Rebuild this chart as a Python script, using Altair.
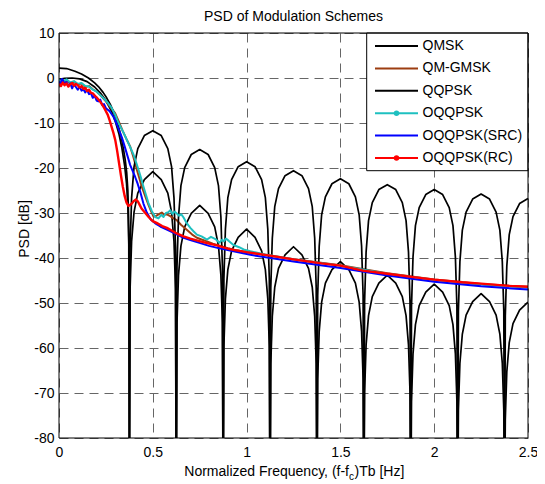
import altair as alt
import pandas as pd

W, H = 469, 405
FONT = "Liberation Sans"

chart_title = "PSD of Modulation Schemes"
series_names = ["QMSK", "QM-GMSK", "QQPSK", "OQQPSK", "OQQPSK(SRC)", "OQQPSK(RC)"]
series_colors = ["#000000", "#9C3D10", "#000000", "#1EC0C0", "#0000FF", "#FF0000"]
series_widths = [1.7, 2.0, 1.7, 2.0, 2.0, 2.4]
series_markers = [False, False, False, True, False, True]

x_ticks = [0, 0.5, 1, 1.5, 2, 2.5]
y_ticks = [-80, -70, -60, -50, -40, -30, -20, -10, 0, 10]

# ---- black curves: main lobes ----
qqpsk_main_x = [0, 0.04, 0.085, 0.12, 0.157, 0.19, 0.21, 0.235, 0.254, 0.275, 0.29, 0.305,
                0.317, 0.332, 0.344, 0.353, 0.361, 0.367, 0.371, 0.374]
qqpsk_main_y = [2.2, 2.1, 1.5, 0.9, 0.0, -1.1, -1.9, -3.2, -4.4, -6.0, -7.4, -9.0,
                -10.8, -13.2, -15.9, -18.2, -21.1, -25.0, -31.0, -42.0]
qmsk_main_x = [0, 0.03, 0.07, 0.11, 0.15, 0.19, 0.22, 0.25, 0.28, 0.30, 0.32, 0.335,
               0.35, 0.36, 0.367, 0.372]
qmsk_main_y = [-0.3, -0.1, 0.0, -0.2, -0.8, -2.0, -3.3, -5.0, -7.4, -9.6, -12.5, -15.5,
               -19.5, -23.5, -28.5, -37.0]

# ---- black curves: side lobes (shared x samples) ----
side_x = [
    0.375, 0.379, 0.387, 0.400, 0.420, 0.455, 0.500, 0.545, 0.580, 0.600, 0.613, 0.621,
    0.625, 0.629, 0.637, 0.650, 0.670, 0.705, 0.750, 0.795, 0.830, 0.850, 0.863, 0.871,
    0.875, 0.879, 0.887, 0.900, 0.920, 0.955, 1.000, 1.045, 1.080, 1.100, 1.113, 1.121,
    1.125, 1.129, 1.137, 1.150, 1.170, 1.205, 1.250, 1.295, 1.330, 1.350, 1.363, 1.371,
    1.375, 1.379, 1.387, 1.400, 1.420, 1.455, 1.500, 1.545, 1.580, 1.600, 1.613, 1.621,
    1.625, 1.629, 1.637, 1.650, 1.670, 1.705, 1.750, 1.795, 1.830, 1.850, 1.863, 1.871,
    1.875, 1.879, 1.887, 1.900, 1.920, 1.955, 2.000, 2.045, 2.080, 2.100, 2.113, 2.121,
    2.125, 2.129, 2.137, 2.150, 2.170, 2.205, 2.250, 2.295, 2.330, 2.350, 2.363, 2.371,
    2.375, 2.379, 2.387, 2.400, 2.420, 2.455, 2.500]
qqpsk_side_y = [
    -100, -37.7, -26.7, -19.7, -15.7, -12.8, -11.7, -12.8, -15.7, -19.7, -26.7, -37.7,
    -100, -41.9, -30.9, -23.9, -19.9, -17.0, -15.9, -17.0, -19.9, -23.9, -30.9, -41.9,
    -100, -44.6, -33.6, -26.6, -22.6, -19.7, -18.6, -19.7, -22.6, -26.6, -33.6, -44.6,
    -100, -46.6, -35.6, -28.6, -24.6, -21.7, -20.6, -21.7, -24.6, -28.6, -35.6, -46.6,
    -100, -48.4, -37.4, -30.4, -26.4, -23.5, -22.4, -23.5, -26.4, -30.4, -37.4, -48.4,
    -100, -49.7, -38.7, -31.7, -27.7, -24.8, -23.7, -24.8, -27.7, -31.7, -38.7, -49.7,
    -100, -50.8, -39.8, -32.8, -28.8, -25.9, -24.8, -25.9, -28.8, -32.8, -39.8, -50.8,
    -100, -51.8, -40.8, -33.8, -29.8, -26.9, -25.8, -26.9, -29.8, -33.8, -40.8, -51.8,
    -100, -52.8, -41.8, -34.8, -30.8, -27.9, -26.8]
qmsk_side_y = [
    -100, -46.8, -36.3, -29.8, -25.6, -22.6, -20.8, -22.6, -25.6, -29.8, -36.3, -46.8,
    -100, -54.3, -43.8, -37.3, -33.1, -30.1, -28.3, -30.1, -33.1, -37.3, -43.8, -54.3,
    -100, -59.6, -49.1, -42.6, -38.4, -35.4, -33.6, -35.4, -38.4, -42.6, -49.1, -59.6,
    -100, -63.5, -53.0, -46.5, -42.3, -39.3, -37.5, -39.3, -42.3, -46.5, -53.0, -63.5,
    -100, -66.8, -56.3, -49.8, -45.6, -42.6, -40.8, -42.6, -45.6, -49.8, -56.3, -66.8,
    -100, -69.8, -59.3, -52.8, -48.6, -45.6, -43.8, -45.6, -48.6, -52.8, -59.3, -69.8,
    -100, -71.8, -61.3, -54.8, -50.6, -47.6, -45.8, -47.6, -50.6, -54.8, -61.3, -71.8,
    -100, -73.9, -63.4, -56.9, -52.7, -49.7, -47.9, -49.7, -52.7, -56.9, -63.4, -73.9,
    -100, -75.8, -65.3, -58.8, -54.6, -51.6, -49.8]

# ---- coloured (simulated) curves ----
gmsk_x = [0, 0.02, 0.04, 0.06, 0.08, 0.10, 0.12, 0.14, 0.16, 0.18, 0.20, 0.225, 0.25, 0.28,
          0.299, 0.32, 0.34, 0.36, 0.379, 0.397, 0.415, 0.428, 0.441, 0.46, 0.477, 0.49,
          0.504, 0.52, 0.535, 0.548, 0.56, 0.575, 0.593, 0.61, 0.628, 0.65, 0.681, 0.71,
          0.735, 0.76, 0.789, 0.82, 0.86, 0.90, 0.95, 1.00, 1.25, 1.50, 1.75, 2.00, 2.25, 2.50]
gmsk_y = [-0.6, -1.1, -0.5, -1.3, -0.8, -1.5, -1.2, -2.0, -1.8, -2.5, -3.0, -4.0, -5.2, -6.8,
          -7.8, -9.8, -11.8, -13.6, -15.2, -17.6, -20.4, -22.2, -24.1, -26.3, -28.2, -29.5,
          -30.8, -30.6, -30.2, -29.9, -30.4, -30.3, -30.7, -31.2, -31.6, -32.6, -33.7, -34.8,
          -35.5, -35.9, -36.3, -36.8, -37.3, -37.8, -38.3, -38.7, -40.3, -41.6, -43.4, -44.8,
          -45.8, -46.4]

oqq_x = [0, 0.02, 0.04, 0.06, 0.08, 0.10, 0.12, 0.14, 0.16, 0.18, 0.20, 0.22, 0.24, 0.26,
         0.28, 0.30, 0.317, 0.34, 0.361, 0.38, 0.397, 0.41, 0.424, 0.437, 0.45, 0.463, 0.477,
         0.495, 0.513, 0.53, 0.545, 0.557, 0.57, 0.583, 0.593, 0.605, 0.617, 0.628, 0.64,
         0.652, 0.664, 0.68, 0.70, 0.718, 0.735, 0.76, 0.789, 0.81, 0.834, 0.855, 0.87, 0.878,
         0.89, 0.905, 0.93, 0.96, 0.984, 1.02, 1.10, 1.25, 1.50, 1.75, 2.00, 2.25, 2.50]
oqq_y = [-0.4, -0.9, -0.3, -1.0, -0.7, -1.3, -1.1, -1.8, -1.9, -2.6, -3.0, -3.8, -4.6, -5.5,
         -6.6, -8.2, -10.0, -11.8, -13.7, -15.4, -17.0, -18.6, -20.4, -22.2, -24.1, -25.9,
         -27.8, -29.6, -30.9, -31.2, -30.4, -30.9, -30.0, -29.8, -29.4, -30.2, -29.7, -30.1,
         -30.6, -30.3, -31.0, -32.2, -33.3, -34.1, -34.8, -35.2, -35.9, -35.3, -35.8, -36.6,
         -35.9, -36.3, -35.7, -36.2, -37.1, -37.6, -38.1, -38.5, -39.2, -40.3, -41.7, -43.5,
         -44.9, -45.9, -46.6]

src_x = [0, 0.01, 0.015, 0.02, 0.03, 0.04, 0.05, 0.06, 0.07, 0.08, 0.09, 0.10, 0.11, 0.12,
         0.13, 0.14, 0.15, 0.16, 0.17, 0.18, 0.19, 0.20, 0.21, 0.22, 0.23, 0.24, 0.25, 0.27,
         0.29, 0.31, 0.335, 0.35, 0.365, 0.379, 0.393, 0.406, 0.42, 0.433, 0.45, 0.468, 0.49,
         0.513, 0.54, 0.575, 0.62, 0.664, 0.70, 0.753, 0.80, 0.85, 0.93, 1.02, 1.25, 1.50,
         1.75, 2.00, 2.25, 2.50]
src_y = [-0.8, -1.5, -0.2, -0.4, -1.3, -0.9, -1.8, -1.2, -2.3, -1.4, -2.0, -2.6, -1.9, -2.8,
         -2.5, -3.2, -2.7, -3.6, -3.3, -4.4, -3.9, -5.0, -5.2, -4.8, -6.0, -5.8, -6.7, -7.4,
         -8.6, -10.5, -13.2, -15.2, -17.3, -19.3, -20.7, -22.0, -23.6, -25.3, -27.9, -29.9,
         -31.5, -32.3, -33.0, -33.7, -34.6, -35.5, -36.0, -36.7, -37.3, -37.8, -38.5, -39.3,
         -40.8, -42.2, -43.9, -45.3, -46.3, -47.0]

rc_x = [0, 0.01, 0.02, 0.03, 0.04, 0.05, 0.06, 0.07, 0.08, 0.09, 0.10, 0.11, 0.12, 0.13,
        0.14, 0.15, 0.16, 0.17, 0.18, 0.19, 0.20, 0.21, 0.22, 0.23, 0.24, 0.25, 0.26, 0.27,
        0.28, 0.29, 0.30, 0.31, 0.32, 0.33, 0.34, 0.35, 0.36, 0.37, 0.38, 0.39, 0.40, 0.41,
        0.42, 0.43, 0.44, 0.46, 0.48, 0.50, 0.52, 0.55, 0.575, 0.60, 0.63, 0.664, 0.70,
        0.753, 0.80, 0.842, 0.90, 0.93, 1.00, 1.10, 1.25, 1.40, 1.50, 1.62, 1.75, 1.90,
        2.00, 2.15, 2.25, 2.40, 2.50]
rc_y = [-1.3, -1.8, -1.0, -1.6, -1.2, -1.9, -1.4, -1.1, -1.7, -1.3, -1.6, -2.1, -1.8, -2.4,
        -2.2, -2.9, -2.6, -3.3, -3.4, -3.9, -4.3, -4.8, -5.3, -5.9, -6.6, -7.4, -8.2, -9.4,
        -10.8, -12.2, -13.8, -16.2, -18.9, -21.6, -24.1, -26.2, -27.7, -28.4, -28.2, -27.8,
        -27.3, -27.0, -27.4, -28.2, -29.0, -30.0, -31.0, -31.8, -32.2, -32.9, -33.3, -33.9,
        -34.6, -35.2, -35.7, -36.3, -36.8, -37.2, -37.9, -38.2, -38.7, -39.3, -40.3, -41.2,
        -41.7, -42.8, -43.5, -44.3, -44.8, -45.4, -45.7, -46.2, -46.4]

curve_data = {
    "QMSK": (qmsk_main_x + side_x, qmsk_main_y + qmsk_side_y),
    "QM-GMSK": (gmsk_x, gmsk_y),
    "QQPSK": (qqpsk_main_x + side_x, qqpsk_main_y + qqpsk_side_y),
    "OQQPSK": (oqq_x, oqq_y),
    "OQQPSK(SRC)": (src_x, src_y),
    "OQQPSK(RC)": (rc_x, rc_y),
}


def frame(xs, ys):
    assert len(xs) == len(ys), (len(xs), len(ys))
    return pd.DataFrame({"x": xs, "y": ys, "i": list(range(len(xs)))})


axis_common = dict(
    grid=True, gridDash=[9, 6], gridColor="#666666", gridWidth=1, gridOpacity=1,
    ticks=False, domain=False, labelFont=FONT, labelFontSize=14, labelColor="black",
    labelExpr="'' + datum.value", labelFlush=False, labelOverlap=False, title=None,
)
X = alt.X("x:Q", scale=alt.Scale(domain=[0, 2.5], nice=False, zero=False),
          axis=alt.Axis(values=x_ticks, labelPadding=7, **axis_common))
Y = alt.Y("y:Q", scale=alt.Scale(domain=[-80, 10], nice=False, zero=False),
          axis=alt.Axis(values=y_ticks, labelPadding=5, **axis_common))

layers = []
for name, col, sw in zip(series_names, series_colors, series_widths):
    xs, ys = curve_data[name]
    layers.append(
        alt.Chart(frame(xs, ys)).mark_line(color=col, strokeWidth=sw, clip=True,
                                           strokeJoin="round")
        .encode(x=X, y=Y, order="i:Q")
    )

one = pd.DataFrame({"k": [0]})

# legend box
LEG_X0, LEG_Y1 = 307.7, 137.7
layers.append(
    alt.Chart(one).mark_rect(fill="white", stroke="black", strokeWidth=1)
    .encode(x=alt.value(LEG_X0), x2=alt.value(W), y=alt.value(0), y2=alt.value(LEG_Y1))
)
for idx, (name, col, mk) in enumerate(zip(series_names, series_colors, series_markers)):
    yy = 13 + idx * 22.4
    layers.append(
        alt.Chart(one).mark_rule(color=col, strokeWidth=2)
        .encode(x=alt.value(316), x2=alt.value(359), y=alt.value(yy))
    )
    if mk:
        layers.append(
            alt.Chart(one).mark_point(filled=True, size=30, color=col, opacity=1)
            .encode(x=alt.value(337.5), y=alt.value(yy))
        )
    layers.append(
        alt.Chart(one).mark_text(text=name, align="left", baseline="middle", font=FONT,
                                 fontSize=14, color="black")
        .encode(x=alt.value(363.5), y=alt.value(yy))
    )

# chart title
layers.append(
    alt.Chart(one).mark_text(text=chart_title, align="center", baseline="alphabetic",
                             font=FONT, fontSize=14, color="black")
    .encode(x=alt.value(W / 2), y=alt.value(-12))
)
# x-axis title with subscript
layers.append(
    alt.Chart(one).mark_text(text="Normalized Frequency, (f-f", align="right",
                             baseline="alphabetic", font=FONT, fontSize=14, color="black")
    .encode(x=alt.value(290), y=alt.value(H + 38))
)
layers.append(
    alt.Chart(one).mark_text(text="c", align="left", baseline="alphabetic", font=FONT,
                             fontSize=10, color="black")
    .encode(x=alt.value(290), y=alt.value(H + 42))
)
layers.append(
    alt.Chart(one).mark_text(text=")Tb [Hz]", align="left", baseline="alphabetic",
                             font=FONT, fontSize=14, color="black")
    .encode(x=alt.value(295.5), y=alt.value(H + 38))
)
# y-axis title
layers.append(
    alt.Chart(one).mark_text(text="PSD [dB]", align="center", baseline="middle", angle=270,
                             font=FONT, fontSize=14, color="black")
    .encode(x=alt.value(-34.5), y=alt.value(196))
)
# plot frame on top
layers.append(
    alt.Chart(one).mark_rect(fillOpacity=0, stroke="black", strokeWidth=1)
    .encode(x=alt.value(0), x2=alt.value(W), y=alt.value(0), y2=alt.value(H))
)

chart = (
    alt.layer(*layers)
    .properties(
        width=W, height=H,
        autosize=alt.AutoSizeParams(type="none"),
        padding={"left": 51, "top": 25, "right": 9, "bottom": 44},
        background="white",
    )
    .configure_view(stroke=None)
)

chart.save("out.html", embed_options={"renderer": "svg", "actions": False})
